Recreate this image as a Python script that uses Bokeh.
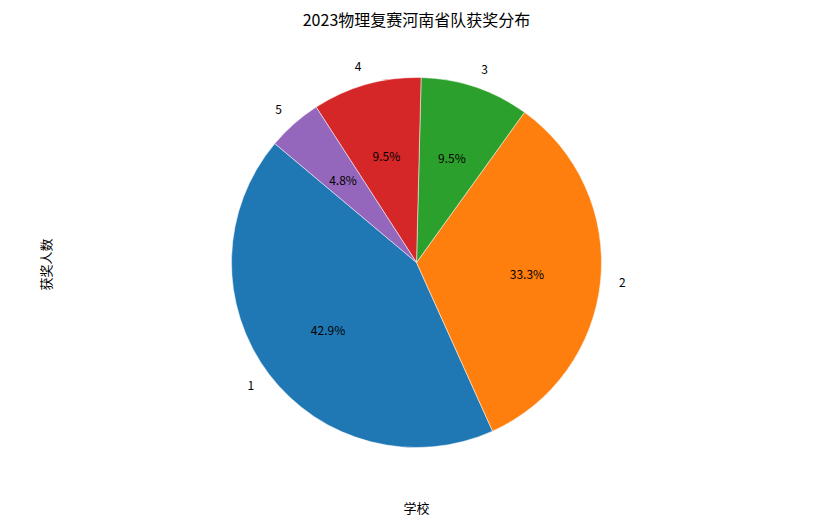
import numpy as np
from bokeh.plotting import figure
from bokeh.models import Range1d, Label, ColumnDataSource
from bokeh.core.properties import value
from bokeh.embed import file_html
from bokeh.resources import INLINE

title_text = "2023物理复赛河南省队获奖分布"
x_label = "学校"
y_label = "获奖人数"
schools = ["1", "2", "3", "4", "5"]
counts = [9, 7, 2, 2, 1]
colors = ["#1f77b4", "#ff7f0e", "#2ca02c", "#d62728", "#9467bd"]

FONT = "Noto Sans CJK SC"
W, H = 813, 522
cx_px, cy_px = 416, 262   # pie centre in figure pixels
R = 185
start_deg = 140

p = figure(width=W, height=H, output_backend="svg", toolbar_location=None,
           x_range=Range1d(-cx_px, W - cx_px), y_range=Range1d(cy_px - H, cy_px),
           min_border=0, outline_line_color=None)
p.axis.visible = False
p.grid.visible = False
p.background_fill_color = "white"
p.border_fill_color = "white"

vals = np.array(counts, dtype=float)
frac = vals / vals.sum()
ends = np.deg2rad(start_deg) + 2 * np.pi * np.cumsum(frac)
starts = ends - 2 * np.pi * frac
mids = (starts + ends) / 2

src = ColumnDataSource(dict(start=starts, end=ends, color=colors))
p.wedge(x=0, y=0, radius=R, start_angle="start", end_angle="end",
        fill_color="color", line_color="white", line_width=0.5, source=src)

pct = ["%.1f%%" % (f * 100) for f in frac]
p.text(x=0.6 * R * np.cos(mids), y=0.6 * R * np.sin(mids), text=pct,
       text_align="center", text_baseline="middle", text_font=value(FONT),
       text_font_size="12px", text_color="black")

lx = 1.1 * R * np.cos(mids)
ly = 1.1 * R * np.sin(mids)
left = [i for i in range(len(schools)) if lx[i] < 0]
right = [i for i in range(len(schools)) if lx[i] >= 0]
p.text(x=lx[right], y=ly[right], text=[schools[i] for i in right],
       text_align="left", text_baseline="middle", text_font=value(FONT),
       text_font_size="12px", text_color="black")
p.text(x=lx[left], y=ly[left], text=[schools[i] for i in left],
       text_align="right", text_baseline="middle", text_font=value(FONT),
       text_font_size="12px", text_color="black")

p.add_layout(Label(x=416, y=H - 18, x_units="screen", y_units="screen", text=title_text,
                   text_align="center", text_baseline="middle", text_font=FONT,
                   text_font_size="16px", text_color="black"))
p.add_layout(Label(x=416, y=H - 507, x_units="screen", y_units="screen", text=x_label,
                   text_align="center", text_baseline="middle", text_font=FONT,
                   text_font_size="13px", text_color="black"))
p.add_layout(Label(x=45, y=H - 264, x_units="screen", y_units="screen", text=y_label,
                   text_align="center", text_baseline="middle", angle=np.pi / 2,
                   text_font=FONT, text_font_size="13px", text_color="black"))

open("out.html", "w").write(file_html(p, INLINE))
